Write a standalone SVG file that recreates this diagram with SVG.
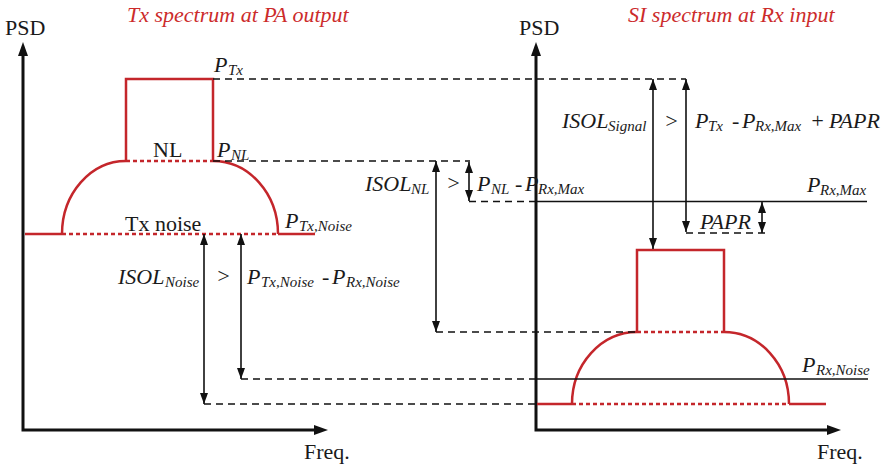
<svg xmlns="http://www.w3.org/2000/svg" width="892" height="468" viewBox="0 0 892 468">
<style>
text{font-family:"Liberation Serif",Tinos,"DejaVu Serif",serif;font-size:22px;fill:#1a1a1a}
.i{font-style:italic}
.s{font-size:15px}
.title{fill:#cc2b2b;font-style:italic}
.ax{stroke:#111;stroke-width:3;fill:none}
.red{stroke:#c4262b;stroke-width:2.5;fill:none}
.dot{stroke:#c4262b;stroke-width:2.5;fill:none;stroke-dasharray:4 3}
.dash{stroke:#111;stroke-width:1.6;fill:none;stroke-dasharray:7 5}
.sol{stroke:#111;stroke-width:1.6;fill:none}
.arr{stroke:#111;stroke-width:1.6;fill:none;marker-start:url(#ah);marker-end:url(#ah)}
</style>
<defs>
<marker id="ah" viewBox="0 0 11 8" markerWidth="11" markerHeight="8" refX="11" refY="4" orient="auto-start-reverse" markerUnits="userSpaceOnUse">
<path d="M0,0 L11,4 L0,8 z" fill="#111"/>
</marker>
</defs>

<g id="titles" font-family="Liberation Serif, serif">
<text class="title" x="127" y="22">Tx spectrum at PA output</text>
<text class="title" x="628" y="22">SI spectrum at Rx input</text>
</g>

<g id="left-axes">
<path class="ax" d="M23,55 V430 H315"/>
<polygon points="23,42 18,56 28,56" fill="#111"/>
<polygon points="328,430 314,425 314,435" fill="#111"/>
<text x="5" y="35">PSD</text>
<text x="304" y="459">Freq.</text>
</g>

<g id="right-axes">
<path class="ax" d="M536,55 V430 H828"/>
<polygon points="536,42 531,56 541,56" fill="#111"/>
<polygon points="841,430 827,425 827,435" fill="#111"/>
<text x="519" y="35">PSD</text>
<text x="817" y="459">Freq.</text>
</g>

<g id="tx-spectrum">
<path class="red" d="M126,161 V79 H213 V161"/>
<path class="dot" d="M126,161 H213"/>
<path class="red" d="M126,161 A64,73 0 0 0 62,234"/>
<path class="red" d="M213,161 A65,73 0 0 1 278,234"/>
<path class="red" d="M25,234 H62"/>
<path class="dot" d="M62,234 H278"/>
<path class="red" d="M278,234 H315"/>
<text x="153" y="157">NL</text>
<text x="125" y="231">Tx noise</text>
<text class="i" y="72"><tspan x="214">P</tspan><tspan class="s" x="228" dy="3">Tx</tspan></text>
<text class="i" y="157"><tspan x="217">P</tspan><tspan class="s" x="231" dy="3">NL</tspan></text>
<text class="i" y="228"><tspan x="285">P</tspan><tspan class="s" x="299" dy="3">Tx,Noise</tspan></text>
</g>

<g id="si-spectrum">
<path class="red" d="M637,332 V250 H724 V332"/>
<path class="dot" d="M637,332 H724"/>
<path class="red" d="M637,332 A65,72 0 0 0 572,404"/>
<path class="red" d="M724,332 A65,72 0 0 1 789,404"/>
<path class="red" d="M537,404 H572"/>
<path class="dot" d="M572,404 H789"/>
<path class="red" d="M789,404 H826"/>
</g>

<g id="rx-levels">
<path class="sol" d="M536,201.5 H867"/>
<path class="sol" d="M536,379 H868"/>
<text class="i" y="192"><tspan x="807">P</tspan><tspan class="s" x="820" dy="3">Rx,Max</tspan></text>
<text class="i" y="372"><tspan x="802">P</tspan><tspan class="s" x="816" dy="3">Rx,Noise</tspan></text>
</g>

<g id="connectors">
<path class="dash" d="M213,79 H686"/>
<path class="dash" d="M213,161 H470"/>
<path class="dash" d="M436,332 H637"/>
<path class="dash" d="M469,201.5 H536"/>
<path class="dash" d="M686,233 H765"/>
<path class="dash" d="M241,379 H536"/>
<path class="dash" d="M204,404 H536"/>
<path class="arr" d="M436,161 V332"/>
<path class="arr" d="M469,162 V201"/>
<path class="arr" d="M653,79 V249"/>
<path class="arr" d="M686,79 V232"/>
<path class="arr" d="M762,202 V233"/>
<path class="arr" d="M204,234 V404"/>
<path class="arr" d="M241,234 V379"/>
</g>

<g id="equations">
<text class="i" y="191"><tspan x="365">ISOL</tspan><tspan class="s" x="411" dy="3">NL</tspan><tspan x="446" dy="-4">&gt;</tspan></text>
<text class="i" y="191"><tspan x="477">P</tspan><tspan class="s" x="491" dy="3">NL</tspan><tspan x="515" dy="-3">-</tspan><tspan x="525">P</tspan><tspan class="s" x="538" dy="3">Rx,Max</tspan></text>
<text class="i" y="128"><tspan x="562">ISOL</tspan><tspan class="s" x="608" dy="3">Signal</tspan><tspan x="664" dy="-3">&gt;</tspan></text>
<text class="i" y="128"><tspan x="695">P</tspan><tspan class="s" x="708" dy="3">Tx</tspan><tspan x="732" dy="-3">-</tspan><tspan x="742">P</tspan><tspan class="s" x="755" dy="3">Rx,Max</tspan><tspan x="810" dy="-3">+</tspan><tspan x="829">PAPR</tspan></text>
<text class="i" x="700" y="229">PAPR</text>
<text class="i" y="284"><tspan x="118">ISOL</tspan><tspan class="s" x="165" dy="3">Noise</tspan><tspan x="216" dy="-4">&gt;</tspan></text>
<text class="i" y="284"><tspan x="247">P</tspan><tspan class="s" x="261" dy="3">Tx,Noise</tspan><tspan x="322" dy="-3">-</tspan><tspan x="332">P</tspan><tspan class="s" x="346" dy="3">Rx,Noise</tspan></text>
</g>
</svg>
